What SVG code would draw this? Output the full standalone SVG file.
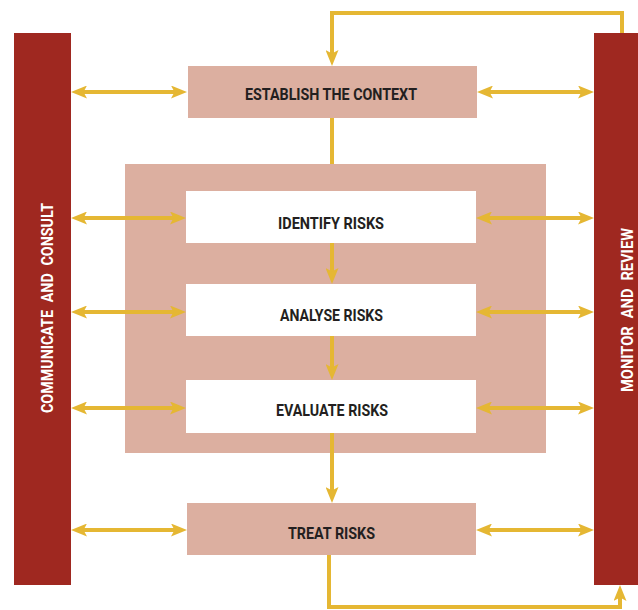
<svg xmlns="http://www.w3.org/2000/svg" width="638" height="610" viewBox="0 0 638 610">
<style>
.bar{fill:#9F2820}
.pink{fill:#DCAFA0}
.white{fill:#FFFFFF}
.lbl{font-family:Roboto,"Liberation Sans",sans-serif;font-weight:700;font-size:16px;fill:#231F20;text-anchor:middle}
.vlbl{font-family:Roboto,"Liberation Sans",sans-serif;font-weight:700;font-size:17px;fill:#FFFFFF;text-anchor:middle}
.con{stroke:#E5B733;stroke-width:4;fill:none}
</style>
<defs>
<marker id="ah" markerUnits="userSpaceOnUse" markerWidth="16" markerHeight="13" refX="8" refY="6.5" orient="auto-start-reverse" viewBox="0 0 16 13">
<path d="M0,0 L16,6.5 L0,13 L3.5,6.5 Z" fill="#E5B733"/>
</marker>
</defs>
<rect width="638" height="610" fill="#FFFFFF"/>
<g id="communicate">
<rect class="bar" x="14" y="33" width="57" height="552"/>
<text class="vlbl" transform="translate(53,308) rotate(-90)" textLength="210" lengthAdjust="spacingAndGlyphs" word-spacing="5">COMMUNICATE AND CONSULT</text>
</g>
<g id="monitor">
<rect class="bar" x="594" y="33" width="44" height="552"/>
<text class="vlbl" transform="translate(633,310) rotate(-90)" textLength="164" lengthAdjust="spacingAndGlyphs" word-spacing="5">MONITOR AND REVIEW</text>
</g>
<g id="assessment">
<rect class="pink" x="125" y="164" width="421" height="289"/>
</g>
<g id="establish">
<rect class="pink" x="188" y="66" width="289" height="52"/>
<text class="lbl" x="331" y="100" textLength="172" lengthAdjust="spacingAndGlyphs">ESTABLISH THE CONTEXT</text>
</g>
<g id="identify">
<rect class="white" x="186" y="191" width="290" height="52"/>
<text class="lbl" x="331" y="229" textLength="106" lengthAdjust="spacingAndGlyphs">IDENTIFY RISKS</text>
</g>
<g id="analyse">
<rect class="white" x="186" y="284" width="290" height="52"/>
<text class="lbl" x="331.5" y="321" textLength="103" lengthAdjust="spacingAndGlyphs">ANALYSE RISKS</text>
</g>
<g id="evaluate">
<rect class="white" x="186" y="380" width="290" height="53"/>
<text class="lbl" x="332" y="416" textLength="112" lengthAdjust="spacingAndGlyphs">EVALUATE RISKS</text>
</g>
<g id="treat">
<rect class="pink" x="187" y="503" width="289" height="52"/>
<text class="lbl" x="331.5" y="539" textLength="87" lengthAdjust="spacingAndGlyphs">TREAT RISKS</text>
</g>
<g id="connectors">
<line class="con" x1="79" y1="92" x2="179" y2="92" marker-start="url(#ah)" marker-end="url(#ah)"/>
<line class="con" x1="485" y1="92" x2="586" y2="92" marker-start="url(#ah)" marker-end="url(#ah)"/>
<line class="con" x1="79" y1="218" x2="178" y2="218" marker-start="url(#ah)" marker-end="url(#ah)"/>
<line class="con" x1="484" y1="218" x2="586" y2="218" marker-start="url(#ah)" marker-end="url(#ah)"/>
<line class="con" x1="79" y1="312" x2="178" y2="312" marker-start="url(#ah)" marker-end="url(#ah)"/>
<line class="con" x1="484" y1="312" x2="586" y2="312" marker-start="url(#ah)" marker-end="url(#ah)"/>
<line class="con" x1="79" y1="408" x2="178" y2="408" marker-start="url(#ah)" marker-end="url(#ah)"/>
<line class="con" x1="484" y1="408" x2="586" y2="408" marker-start="url(#ah)" marker-end="url(#ah)"/>
<line class="con" x1="79" y1="530" x2="179" y2="530" marker-start="url(#ah)" marker-end="url(#ah)"/>
<line class="con" x1="484" y1="530" x2="586" y2="530" marker-start="url(#ah)" marker-end="url(#ah)"/>
<polyline class="con" points="622,33 622,13 332,13 332,58" marker-end="url(#ah)"/>
<line class="con" x1="332" y1="118" x2="332" y2="164"/>
<line class="con" x1="332" y1="243" x2="332" y2="276" marker-end="url(#ah)"/>
<line class="con" x1="332" y1="336" x2="332" y2="372" marker-end="url(#ah)"/>
<line class="con" x1="332" y1="433" x2="332" y2="495" marker-end="url(#ah)"/>
<polyline class="con" points="329,555 329,607 620,607 620,593" marker-end="url(#ah)"/>
</g>
</svg>
